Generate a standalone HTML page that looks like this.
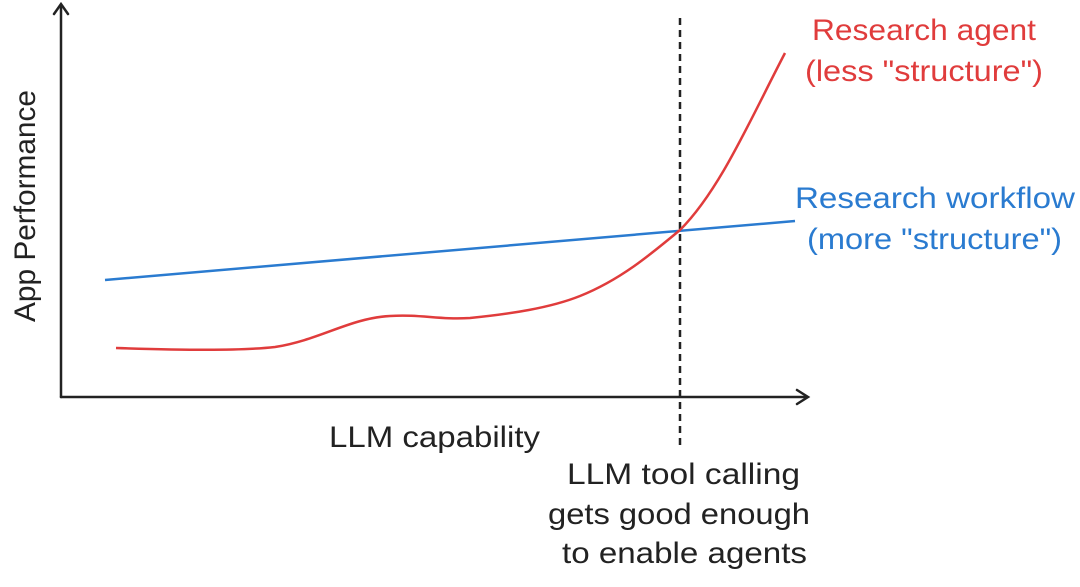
<!DOCTYPE html>
<html><head><meta charset="utf-8"><style>
body{margin:0;background:#fff;}
svg text{font-family:"Liberation Sans","DejaVu Sans",sans-serif;}
</style></head><body>
<svg width="1080" height="582" viewBox="0 0 1080 582" xmlns="http://www.w3.org/2000/svg">
<g stroke="#222" stroke-width="2.5" fill="none" stroke-linecap="round">
<line x1="61" y1="397" x2="61" y2="5"/>
<polyline points="54,14 61,4 68,14"/>
<line x1="61" y1="397" x2="807" y2="397"/>
<polyline points="797,390 808,397 797,404"/>
</g>
<line x1="680" y1="18" x2="680" y2="446" stroke="#222" stroke-width="2.5" stroke-dasharray="7,5"/>
<line x1="105" y1="280" x2="795" y2="221" stroke="#2a7bd0" stroke-width="2.5"/>
<path d="M116,348 C180,350 240,351 275,347 C320,340 350,318 390,316 C420,314 440,320 470,318 C510,314 550,308 580,296 C620,280 650,255 680,230 C720,190 750,120 785,53" stroke="#e03c3c" stroke-width="2.5" fill="none"/>
<g font-size="30">
<text x="812" y="40" fill="#e03c3c" textLength="224" lengthAdjust="spacingAndGlyphs">Research agent</text>
<text x="805" y="81" fill="#e03c3c" textLength="238" lengthAdjust="spacingAndGlyphs">(less "structure")</text>
<text x="795" y="208" fill="#2a7bd0" textLength="280" lengthAdjust="spacingAndGlyphs">Research workflow</text>
<text x="807" y="249" fill="#2a7bd0" textLength="255" lengthAdjust="spacingAndGlyphs">(more "structure")</text>
<text x="329" y="447" fill="#222" textLength="211" lengthAdjust="spacingAndGlyphs">LLM capability</text>
<text x="567" y="484" fill="#222" textLength="233" lengthAdjust="spacingAndGlyphs">LLM tool calling</text>
<text x="548" y="524" fill="#222" textLength="262" lengthAdjust="spacingAndGlyphs">gets good enough</text>
<text x="562" y="563" fill="#222" textLength="245" lengthAdjust="spacingAndGlyphs">to enable agents</text>
<text transform="translate(35,322) rotate(-90)" fill="#222" textLength="232" lengthAdjust="spacingAndGlyphs">App Performance</text>
</g>
</svg>
</body></html>
